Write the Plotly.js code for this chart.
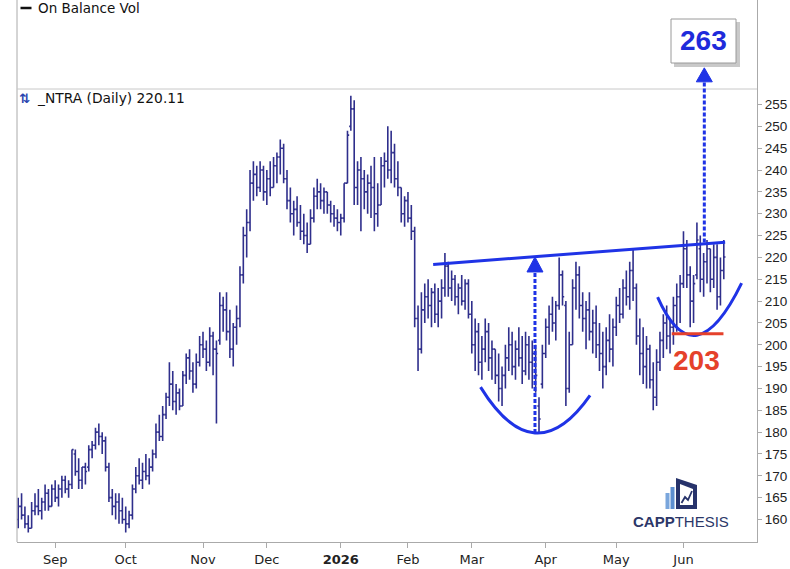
<!DOCTYPE html>
<html><head><meta charset="utf-8">
<script src="https://cdn.plot.ly/plotly-3.0.1.min.js"></script>
<style>html,body{margin:0;padding:0;background:#fff}#chart{width:790px;height:569px}</style>
</head><body><div id="chart"></div>
<script>
// ---- data (daily bars, _NTRA, mid Aug 2025 -> mid Jun 2026) ----
const openP = [160,163,161,159,158,162,163,162,164,166,163,167,165,167,169,167,168,175,171,169,
172,172,176,177,180,179,178,172,165,163,164,162,160,159,161,167,170,169,171,170,
172,175,180,179,184,188,191,187,189,186,193,197,194,191,196,200,199,196,202,199,
201,209,208,203,199,204,206,216,225,228,237,239,236,240,235,238,236,241,243,245,
238,233,230,231,228,226,225,223,229,234,235,233,235,232,230,229,228,229,237,250,
254,236,240,238,235,237,236,230,232,241,242,240,244,238,236,230,233,229,226,206,
199,208,211,209,212,207,210,213,218,213,215,211,213,210,214,207,200,203,196,199,
203,197,199,193,190,193,197,200,195,199,197,194,200,196,198,186,191,198,204,207,
205,209,216,209,190,200,213,216,209,206,208,203,205,200,198,195,201,199,204,209,
207,213,211,217,213,202,198,195,199,192,188,196,201,205,202,204,209,211,214,222,
216,210,216,222,215,219,222,215,220,211,217];
const highP = [165,166,163,161,164,166,167,165,168,167,168,169,168,170,170,169,176,176,174,172,
173,177,178,181,182,180,179,173,167,166,166,165,163,162,168,172,174,173,175,174,
176,182,184,186,189,196,194,191,190,194,198,199,196,198,202,203,201,204,203,201,
212,211,212,208,205,209,218,227,231,240,242,241,242,241,240,242,243,244,247,246,
240,236,233,234,232,230,228,231,236,238,237,236,235,233,232,231,230,237,249,257,
256,242,243,240,239,241,243,237,243,244,250,249,246,242,236,234,235,232,227,209,
212,214,215,213,214,213,215,221,219,217,216,214,216,215,215,210,206,205,202,206,
205,201,199,198,195,200,204,203,201,204,202,203,202,201,200,188,200,206,209,211,
210,220,217,210,203,215,219,218,212,210,212,208,209,205,203,204,207,206,211,213,
215,217,219,222,214,206,204,202,200,196,199,203,207,209,206,211,214,216,226,224,
218,216,228,225,221,224,222,223,223,220,224];
const lowP = [158,160,158,157,158,161,161,160,162,162,163,164,163,165,166,165,167,170,167,167,
168,171,174,176,177,175,171,164,161,160,159,159,157,158,160,166,168,167,169,168,
171,174,178,178,183,186,185,184,185,186,191,192,189,190,195,197,194,195,193,182,
200,203,201,197,195,200,204,214,220,226,233,234,235,233,232,234,236,237,239,237,
231,228,225,227,224,223,221,223,228,231,231,230,230,228,227,226,225,228,237,249,
232,232,226,231,230,229,226,227,232,236,238,237,236,234,228,227,228,224,204,194,
198,205,206,204,205,204,206,211,211,210,209,207,209,208,206,198,194,193,192,196,
194,192,191,187,186,190,194,193,192,195,191,193,192,190,189,180,190,197,200,203,
201,208,209,186,189,200,208,206,203,199,201,198,197,194,190,193,196,195,202,205,
206,209,208,210,200,193,191,190,190,185,186,194,197,199,198,200,203,205,213,213,
204,205,215,212,211,214,212,213,208,209,215];
const closeP = [163,161,159,158,162,163,162,164,166,163,167,165,167,169,167,168,176,171,169,172,
171,176,177,180,179,178,172,165,163,164,162,160,159,161,167,170,169,171,170,172,
175,180,179,184,188,191,187,189,186,193,197,194,191,196,200,199,196,202,199,198,
209,208,203,199,204,206,216,225,228,237,239,236,240,235,238,236,241,243,245,238,
233,230,231,228,226,225,223,229,234,235,233,235,232,230,229,228,229,237,248,254,
236,240,238,235,237,236,230,232,241,242,240,244,238,236,230,233,229,226,206,199,
208,211,209,212,207,210,213,218,213,215,211,213,210,214,207,200,203,196,199,203,
197,199,193,190,193,197,200,195,199,197,194,200,196,198,193,183,198,204,207,205,
209,216,211,190,200,213,216,209,206,208,203,205,200,198,195,201,199,204,209,207,
213,211,217,213,202,198,195,199,192,188,196,201,205,202,204,209,211,214,222,216,
210,214,224,215,219,222,215,220,211,217,220.11];

const monthTickIdx  = [11,32,55,74,96,116,135,157,178,198];
const monthTickText = ['Sep','Oct','Nov','Dec','<b>2026</b>','Feb','Mar','Apr','May','Jun'];
const priceTicks    = [160,165,170,175,180,185,190,195,200,205,210,215,220,225,230,235,240,245,250,255];

// analyst drawings (bar index, price)
const resistanceX = [123.5, 210.4];
const resistanceY = [218.4, 223.5];
const cupLeftX  = [137.6, 153.8, 170.2];
const cupLeftY  = [190.3, 179.8, 188.4];
const cupRightX = [190.3, 202.0, 215.3];
const cupRightY = [210.9, 202.2, 214.1];
const measureX = 153.8, measureLow = 179.8, measureTop = 220.1;
const targetX = 204.2, targetFrom = 223.4, targetPrice = 263.4;
const supportLevel = 202.5, supportX = [194.5, 209.9];
const lastClose = 220.11;

// ---- drawing ----
const NAVY = '#2f2f8c', BLUE = '#1f33e6', RED = '#e5412b', FRAME = '#aaaaaa';
const W = 790, H = 569, ML = 17, MR = 33, MT = 0, MB = 27;
const plotW = W - ML - MR, plotH = H - MT - MB;
const PX = x => (x - ML) / plotW;
const PY = y => 1 - (y - MT) / plotH;
const ppu = 3.36; // pixels per bar
const yPerPx = (278.93 - 154.85) / plotH;

const xIdx = openP.map((_, i) => i);

function quadThrough(xs, ys) {
  const cx = 2 * xs[1] - (xs[0] + xs[2]) / 2;
  const cy = 2 * ys[1] - (ys[0] + ys[2]) / 2;
  return `M ${xs[0]},${ys[0]} Q ${cx},${cy} ${xs[2]},${ys[2]}`;
}
function arrowHead(x, tip, base) {
  const hw = 8 / ppu;
  return `M ${x},${tip} L ${x - hw},${base} L ${x + hw},${base} Z`;
}

const trace = {
  type: 'ohlc', x: xIdx, open: openP, high: highP, low: lowP, close: closeP,
  increasing: {line: {color: NAVY, width: 1.6}},
  decreasing: {line: {color: NAVY, width: 1.6}},
  tickwidth: 0.5, hoverinfo: 'skip', showlegend: false
};

const shapes = [
  {type:'line', xref:'paper', yref:'paper', x0:0, x1:0, y0:0, y1:1, line:{color:FRAME, width:1}},
  {type:'line', xref:'paper', yref:'paper', x0:0, x1:1, y0:PY(89), y1:PY(89), line:{color:'#c8c8c8', width:1}},
  {type:'line', xref:'paper', yref:'paper', x0:PX(20.5), x1:PX(31.5), y0:PY(8), y1:PY(8), line:{color:'#111', width:2.5}},
  // resistance
  {type:'line', xref:'x', yref:'y', layer:'above', x0:resistanceX[0], y0:resistanceY[0], x1:resistanceX[1], y1:resistanceY[1], line:{color:BLUE, width:3}},
  // cups
  {type:'path', xref:'x', yref:'y', layer:'above', path:quadThrough(cupLeftX, cupLeftY), line:{color:BLUE, width:3}},
  {type:'path', xref:'x', yref:'y', layer:'above', path:quadThrough(cupRightX, cupRightY), line:{color:BLUE, width:3}},
  // measured move
  {type:'line', xref:'x', yref:'y', layer:'above', x0:measureX, x1:measureX, y0:measureLow, y1:measureTop - 15*yPerPx, line:{color:BLUE, width:3, dash:'4px,2px'}},
  {type:'path', xref:'x', yref:'y', layer:'above', path:arrowHead(measureX, measureTop, measureTop - 15*yPerPx), fillcolor:BLUE, line:{color:BLUE, width:1}},
  // target projection
  {type:'line', xref:'x', yref:'y', layer:'above', x0:targetX, x1:targetX, y0:targetFrom, y1:targetPrice - 14*yPerPx, line:{color:BLUE, width:3, dash:'4px,2px'}},
  {type:'path', xref:'x', yref:'y', layer:'above', path:arrowHead(targetX, targetPrice, targetPrice - 14*yPerPx), fillcolor:BLUE, line:{color:BLUE, width:1}},
  // target box shadow + box
  {type:'rect', xref:'paper', yref:'paper', layer:'above', x0:PX(674), x1:PX(740), y0:PY(67), y1:PY(22), fillcolor:'#c9c9c9', line:{width:0}},
  {type:'rect', xref:'paper', yref:'paper', layer:'above', x0:PX(671), x1:PX(736), y0:PY(63), y1:PY(19), fillcolor:'#ffffff', line:{color:'#9a9a9a', width:1}},
  // support
  {type:'line', xref:'x', yref:'y', layer:'above', x0:supportX[0], x1:supportX[1], y0:supportLevel, y1:supportLevel, line:{color:RED, width:3}},
  // logo icon
  {type:'rect', xref:'paper', yref:'paper', x0:PX(665.5), x1:PX(669.5), y0:PY(509), y1:PY(493), fillcolor:'#7aa6dc', line:{width:0}},
  {type:'rect', xref:'paper', yref:'paper', x0:PX(670.5), x1:PX(674.5), y0:PY(509), y1:PY(487), fillcolor:'#5d8fd0', line:{width:0}},
  {type:'path', xref:'paper', yref:'paper', path:`M ${PX(676)},${PY(478)} L ${PX(697)},${PY(485)} L ${PX(697)},${PY(509)} L ${PX(676)},${PY(509)} Z`, fillcolor:'#27336b', line:{width:0}},
  {type:'path', xref:'paper', yref:'paper', path:`M ${PX(680)},${PY(484)} L ${PX(693)},${PY(489)} L ${PX(693)},${PY(505)} L ${PX(680)},${PY(505)} Z`, fillcolor:'#ffffff', line:{width:0}},
  {type:'path', xref:'paper', yref:'paper', path:`M ${PX(681.5)},${PY(503)} L ${PX(685)},${PY(497)} L ${PX(688)},${PY(500)} L ${PX(692)},${PY(491)}`, line:{color:'#27336b', width:1.8}}
];

const annotations = [
  {xref:'paper', yref:'paper', x:PX(36), y:PY(8), xanchor:'left', yanchor:'middle', showarrow:false,
   text:'On Balance Vol', font:{family:'DejaVu Sans', size:13.5, color:'#111'}},
  {xref:'paper', yref:'paper', x:PX(16.5), y:PY(98), xanchor:'left', yanchor:'middle', showarrow:false,
   text:'<b>⇅</b>', font:{family:'DejaVu Sans', size:13, color:'#2a45b0'}},
  {xref:'paper', yref:'paper', x:PX(35), y:PY(98), xanchor:'left', yanchor:'middle', showarrow:false,
   text:'_NTRA (Daily) ' + lastClose.toFixed(2), font:{family:'DejaVu Sans', size:13.8, color:'#111'}},
  {xref:'paper', yref:'paper', x:PX(703.5), y:PY(41), xanchor:'center', yanchor:'middle', showarrow:false,
   text:'<b>' + Math.floor(targetPrice) + '</b>', font:{family:'Liberation Sans, Arial', size:28, color:'#1f2bdb'}},
  {xref:'paper', yref:'paper', x:PX(696), y:PY(360), xanchor:'center', yanchor:'middle', showarrow:false,
   text:'<b>203</b>', font:{family:'Liberation Sans, Arial', size:28, color:RED}},
  {xref:'paper', yref:'paper', x:PX(680.5), y:PY(521), xanchor:'center', yanchor:'middle', showarrow:false,
   text:'<b>CAPP</b>THESIS', font:{family:'Liberation Sans, Arial', size:15, color:'#2c3768'}}
];

const layout = {
  width: W, height: H, margin: {l:ML, r:MR, t:MT, b:MB, pad:0},
  paper_bgcolor:'#ffffff', plot_bgcolor:'#ffffff', showlegend:false, dragmode:false,
  xaxis: {type:'linear', range:[(ML - 18.2)/ppu, (W - MR - 18.2)/ppu], tickmode:'array', tickvals:monthTickIdx, ticktext:monthTickText,
    ticks:'outside', ticklen:5, tickcolor:FRAME, showline:true, linecolor:FRAME, linewidth:1,
    showgrid:false, zeroline:false, rangeslider:{visible:false}, fixedrange:true,
    tickfont:{family:'DejaVu Sans', size:13, color:'#222'}},
  yaxis: {range:[154.85, 278.93], side:'right', tickmode:'array', tickvals:priceTicks,
    ticks:'outside', ticklen:4, tickcolor:FRAME, showline:true, linecolor:FRAME, linewidth:1,
    showgrid:false, zeroline:false, fixedrange:true,
    tickfont:{family:'Liberation Sans, Arial', size:13.5, color:'#222'}},
  shapes: shapes, annotations: annotations
};

Plotly.newPlot('chart', [trace], layout, {staticPlot:true, displayModeBar:false});
</script>
</body></html>
